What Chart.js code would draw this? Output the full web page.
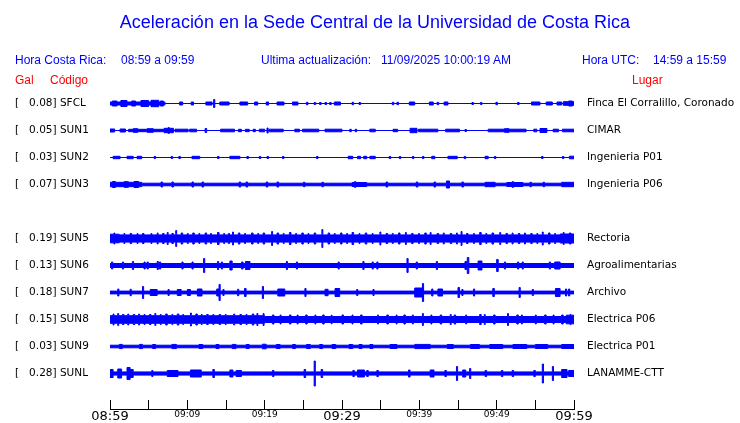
<!DOCTYPE html>
<html>
<head>
<meta charset="utf-8">
<script src="https://cdn.jsdelivr.net/npm/chart.js@4.4.1/dist/chart.umd.min.js"></script>
<style>
  body { margin: 0; background: #fff; }
  #wrap { position: relative; width: 740px; height: 423px; }
  .t { position: absolute; font-family: "Liberation Sans", Arial, sans-serif; white-space: pre; line-height: 1; color: #0000ff; }
  .red { color: #ff0000; }
</style>
</head>
<body>
<div id="wrap">
  <canvas id="seismo"></canvas>
  <div class="t" style="left:0;width:750px;text-align:center;top:13px;font-size:18px;">Aceleración en la Sede Central de la Universidad de Costa Rica</div>
  <div class="t" style="left:15px;top:54px;font-size:12px;">Hora Costa Rica:</div>
  <div class="t" style="left:121px;top:54px;font-size:12px;">08:59 a 09:59</div>
  <div class="t" style="left:261px;top:54px;font-size:12px;">Ultima actualización:</div>
  <div class="t" style="left:381px;top:54px;font-size:12px;">11/09/2025 10:00:19 AM</div>
  <div class="t" style="left:582px;top:54px;font-size:12px;">Hora UTC:</div>
  <div class="t" style="left:653px;top:54px;font-size:12px;">14:59 a 15:59</div>
  <div class="t red" style="left:15px;top:74px;font-size:12px;">Gal</div>
  <div class="t red" style="left:50px;top:74px;font-size:12px;">Código</div>
  <div class="t red" style="left:632px;top:74px;font-size:12px;">Lugar</div>
</div>
<script>
// stations, peak acceleration (gal) and place, top to bottom (slot 4 is empty)
const stations = ['SFCL', 'SUN1', 'SUN2', 'SUN3', 'SUN5', 'SUN6', 'SUN7', 'SUN8', 'SUN9', 'SUNL'];
const peaks = ['0.08', '0.05', '0.03', '0.07', '0.19', '0.13', '0.18', '0.15', '0.03', '0.28'];
const places = ['Finca El Corralillo, Coronado', 'CIMAR', 'Ingenieria P01', 'Ingenieria P06',
  'Rectoria', 'Agroalimentarias', 'Archivo', 'Electrica P06', 'Electrica P01', 'LANAMME-CTT'];
const rowOf = [0, 1, 2, 3, 5, 6, 7, 8, 9, 10];

// x axis: minutes after 08:59
const timeLabels = ['08:59', '09:09', '09:19', '09:29', '09:39', '09:49', '09:59'];

// background noise half-amplitude of each trace
const bases = [0, 0, 0, 1.3, 3.6, 2.0, 1.4, 3.0, 1.3, 1.6];

// bursts: [start minute, end minute, half-amplitude]
const sfclBursts = [[0, 7.1, 1.5], [0.3, 0.9, 2.5], [1.4, 2.2, 3], [2.8, 3.3, 2.5], [4.0, 5.0, 3], [5.3, 6.3, 3.2], [6.5, 6.9, 2.5],
  [9.0, 9.4, 1.5], [10.5, 10.8, 1.5], [12.4, 13.2, 1.5], [13.4, 13.55, 4], [14.2, 15.4, 1.5], [16.8, 17.8, 1.5], [18.7, 19.1, 1.5],
  [20.2, 20.5, 1.5], [21.6, 22.5, 1.5], [23.6, 24.3, 1.5], [25.4, 25.6, 1.2], [26.4, 26.6, 1], [27.1, 27.3, 1], [27.8, 28.0, 1],
  [28.4, 28.6, 1], [29.0, 29.8, 1.5], [31.3, 31.5, 1.2], [32.2, 32.4, 1], [36.5, 36.7, 1.2], [37.1, 37.3, 1.2], [38.7, 39.4, 1.5],
  [41.3, 41.8, 1.5], [42.3, 42.5, 1.2], [43.2, 43.7, 1.5], [46.8, 47.0, 1], [47.9, 48.1, 1], [49.9, 50.1, 1.2], [52.7, 52.9, 1],
  [54.5, 55.6, 1.5], [56.4, 57.2, 1.5], [57.8, 58.4, 1.5], [58.6, 60, 1.8], [59.3, 59.8, 2.5]];
const sun1Bursts = [[0, 0.6, 1.5], [1.3, 2.0, 1.5], [2.4, 7.0, 1.2], [3.0, 3.6, 1.8], [4.8, 5.6, 1.8], [7.0, 8.2, 2.2], [7.5, 7.7, 2.8],
  [8.4, 10.1, 1.3], [10.3, 11.2, 1.3], [12.3, 12.5, 2], [14.3, 16.1, 1.3], [16.6, 17.0, 1.2], [17.5, 18.0, 1.2], [18.5, 18.8, 1.2],
  [19.3, 20.0, 1.3], [20.3, 20.45, 2.5], [20.6, 22.4, 1.3], [23.9, 24.5, 1.3], [24.9, 27.0, 1.3], [27.8, 30.0, 1.3], [31.0, 31.2, 1.2],
  [31.7, 31.9, 1.2], [33.6, 34.3, 1.3], [36.6, 37.2, 1.2], [38.8, 39.7, 2.2], [39.9, 42.4, 1.3], [43.4, 45.2, 1.3], [45.9, 46.1, 1],
  [48.9, 53.8, 1.3], [51.0, 51.6, 1.8], [54.8, 55.2, 1.3], [55.6, 56.5, 2], [57.3, 58.0, 1.3], [58.5, 60, 1.3]];
const sun2Bursts = [[0.4, 1.3, 1.2], [2.2, 3.0, 1.2], [3.5, 4.1, 1.2], [5.7, 5.9, 1], [7.9, 8.1, 1], [8.9, 9.1, 1], [10.6, 11.6, 1.2],
  [13.9, 14.1, 1], [15.5, 16.8, 1.2], [17.7, 17.9, 1], [19.3, 19.5, 1], [20.3, 20.5, 1], [22.3, 22.5, 1], [26.7, 26.9, 1],
  [30.8, 31.4, 1.2], [32.0, 32.4, 1.2], [32.8, 33.2, 1.2], [33.6, 34.3, 1.2], [36.1, 36.3, 1], [37.4, 37.6, 1], [39.1, 39.3, 1],
  [40.4, 40.6, 1], [41.6, 42.0, 1.2], [43.7, 44.9, 1.2], [45.8, 46.0, 1], [48.5, 48.9, 1.2], [49.7, 49.9, 1], [55.8, 56.0, 1],
  [58.5, 58.7, 1], [59.4, 60, 1.3]];
const sun3Bursts = [[0, 4.1, 2.2], [0.3, 0.7, 3], [1.8, 2.4, 2.8], [3.1, 3.7, 3], [6.6, 6.8, 2.5], [8.0, 8.2, 2.5], [10.6, 10.8, 2.5],
  [11.9, 12.1, 2.5], [16.7, 16.9, 2.5], [17.6, 17.8, 2.5], [20.2, 20.4, 2.5], [21.6, 21.8, 2.5], [25.0, 25.2, 2.2], [27.4, 27.6, 2.2],
  [31.3, 33.2, 2], [31.6, 31.8, 2.8], [35.7, 35.9, 2.5], [39.6, 39.8, 2.5], [41.9, 42.1, 2.5], [43.5, 43.9, 3.5], [45.5, 45.7, 2.5],
  [48.5, 49.8, 2.2], [51.3, 53.4, 2], [52.0, 52.2, 2.8], [54.3, 54.5, 2.2], [56.0, 56.2, 2.2], [58.4, 60, 2.2]];
const sun5Bursts = [[0, 1.2, 4.3], [0.5, 0.62, 5.5], [1.8, 1.92, 5], [2.6, 2.8, 5], [3.5, 3.62, 5], [4.2, 4.4, 5], [5.3, 5.42, 5],
  [6.1, 6.22, 5.5], [6.8, 7.0, 5], [7.4, 7.52, 6], [8.0, 8.2, 5], [8.5, 8.62, 8], [9.2, 9.4, 5.5], [10.0, 10.12, 5], [10.7, 10.9, 5.5],
  [11.5, 11.62, 5], [12.3, 12.5, 5.5], [13.0, 13.12, 5], [13.9, 14.1, 6], [14.7, 14.82, 5], [15.3, 15.45, 5], [15.85, 15.97, 6.5],
  [16.6, 16.8, 5.5], [17.4, 17.52, 5], [18.3, 18.5, 5.5], [19.1, 19.22, 5], [19.8, 20.0, 5.5], [20.9, 21.02, 7], [21.6, 21.8, 5.5],
  [22.4, 22.52, 5], [23.2, 23.4, 6], [24.0, 24.12, 5], [24.8, 25.0, 5.5], [25.6, 25.72, 5], [26.4, 26.6, 5.5], [27.4, 27.52, 9],
  [28.2, 28.4, 5.5], [29.0, 29.12, 5], [29.8, 30.0, 5.5], [30.6, 30.72, 5], [31.3, 31.5, 6], [32.2, 32.32, 5], [33.0, 33.2, 5.5],
  [33.9, 34.02, 5], [34.9, 35.02, 6.5], [35.7, 35.9, 5], [36.5, 36.62, 5], [37.3, 37.5, 5.5], [38.2, 38.32, 6], [39.0, 39.2, 5],
  [39.9, 40.02, 5], [40.7, 40.9, 5.5], [41.4, 41.52, 6], [42.3, 42.5, 5], [43.1, 43.22, 5.5], [44.0, 44.2, 5], [44.8, 44.92, 5.5],
  [45.4, 45.52, 7], [46.1, 46.3, 5], [47.0, 47.12, 5], [47.8, 48.0, 6], [48.6, 48.72, 5], [49.4, 49.6, 5.5], [50.4, 50.52, 6],
  [51.2, 51.4, 5], [52.0, 52.12, 5.5], [52.8, 53.0, 5], [53.6, 53.72, 5.5], [54.4, 54.6, 5], [55.2, 55.32, 5], [55.9, 56.02, 6.5],
  [56.7, 56.9, 5.5], [57.5, 57.62, 5], [58.2, 60, 4.5], [58.6, 58.72, 6], [59.4, 59.6, 5.5]];
const sun6Bursts = [[0.2, 0.35, 3.5], [1.6, 1.75, 3.5], [2.9, 3.05, 4], [4.4, 4.55, 3.5], [4.8, 4.95, 3.5], [6.1, 6.25, 4],
  [6.4, 6.55, 3.5], [9.3, 9.45, 3.5], [10.6, 10.75, 3.5], [12.1, 12.25, 7], [13.9, 14.05, 4], [14.4, 14.55, 3.5], [15.5, 15.8, 4.5],
  [17.0, 17.2, 3.5], [17.5, 18.1, 4], [22.8, 22.95, 4], [24.1, 24.25, 3.5], [29.5, 29.65, 3.5], [32.7, 32.85, 4], [33.9, 34.05, 3.5],
  [34.5, 34.65, 3.5], [38.4, 38.55, 7], [39.6, 39.75, 3.5], [42.2, 42.35, 4], [45.9, 46.1, 4], [46.2, 46.4, 8], [47.6, 48.1, 4.5],
  [50.0, 50.2, 6], [51.0, 51.15, 3.5], [52.7, 52.85, 3.5], [53.3, 53.45, 3.5], [56.8, 56.95, 3.5], [57.5, 58.2, 3.5]];
const sun7Bursts = [[1.0, 1.15, 3.5], [2.6, 2.75, 3.2], [4.2, 4.35, 6], [5.2, 6.1, 3], [7.5, 7.65, 3], [8.7, 9.2, 3], [10.0, 10.4, 3],
  [11.3, 11.9, 3.5], [13.8, 14.1, 3.5], [14.1, 14.25, 8], [14.6, 14.75, 3], [16.5, 16.65, 3.2], [17.4, 17.6, 4], [19.7, 19.85, 6],
  [21.7, 22.6, 3.5], [25.2, 25.35, 4], [27.8, 28.2, 3.2], [29.1, 29.7, 4], [31.9, 32.05, 3], [34.0, 34.15, 3], [39.4, 40.4, 4.5],
  [40.4, 40.55, 9], [41.6, 41.75, 3.5], [42.4, 43.0, 3.5], [45.0, 45.2, 5], [45.5, 45.65, 3], [47.0, 47.15, 3.5], [49.5, 49.7, 4],
  [52.9, 53.05, 5], [54.6, 54.75, 3], [57.6, 58.2, 4], [58.9, 59.05, 3.5], [59.3, 59.45, 3.5]];
const sun8Bursts = [[0, 20, 3.8], [0.4, 0.52, 5.5], [1.0, 1.12, 6], [1.6, 1.8, 5], [2.3, 2.42, 5.5], [3.0, 3.2, 5], [3.7, 3.82, 5.5],
  [4.4, 4.52, 5], [5.1, 5.3, 5], [5.8, 5.92, 6], [6.5, 6.62, 5], [7.2, 7.4, 5.5], [8.0, 8.12, 5], [8.7, 8.9, 5.5], [9.4, 9.52, 5],
  [10.4, 10.52, 6.5], [11.1, 11.3, 5.5], [11.8, 11.92, 5], [12.5, 12.7, 5], [13.3, 13.42, 5], [14.1, 14.3, 5], [14.9, 15.02, 5],
  [16.0, 16.12, 5.5], [16.8, 17.0, 5], [17.6, 17.72, 5], [18.4, 18.6, 5.5], [19.0, 19.12, 6], [19.8, 19.92, 6], [21.0, 21.2, 4.5],
  [22.0, 22.12, 4.5], [23.2, 23.4, 4.5], [24.2, 24.32, 4.5], [25.3, 25.5, 4.5], [26.5, 26.62, 4.5], [27.5, 27.7, 4.5],
  [28.6, 28.72, 4.3], [30.0, 30.2, 4.5], [31.3, 31.42, 4.5], [32.4, 32.6, 4.5], [34.6, 34.72, 4.5], [35.8, 36.0, 4.5],
  [37.0, 37.12, 4.5], [38.0, 38.2, 4.5], [39.1, 39.22, 4.5], [40.4, 40.52, 6], [41.5, 41.62, 4.5], [42.7, 42.9, 4.5],
  [44.0, 44.12, 5], [44.5, 44.7, 4.5], [46.0, 46.12, 4.5], [47.8, 48.0, 5], [48.4, 48.52, 5], [49.6, 49.8, 4.5], [51.4, 51.52, 6],
  [52.6, 52.8, 4.5], [53.2, 53.32, 4.5], [55.0, 55.12, 4.5], [56.2, 56.4, 4.5], [57.3, 57.42, 4.5], [58.4, 58.6, 4.5],
  [59.0, 60, 4.3], [59.5, 59.62, 5]];
const sun9Bursts = [[1.2, 1.6, 2.1], [3.8, 4.2, 2.1], [5.5, 5.9, 2], [8.0, 8.6, 2.1], [11.5, 12.0, 2], [13.7, 14.1, 2],
  [15.8, 16.3, 2.1], [17.6, 18.0, 2], [19.7, 20.2, 2.3], [21.5, 22.0, 2], [23.6, 24.0, 2], [25.4, 25.9, 2], [27.1, 27.5, 2],
  [28.7, 29.2, 2], [30.9, 31.4, 2], [32.2, 32.6, 2], [33.6, 34.0, 2], [36.2, 37.1, 2], [39.4, 41.4, 2.1], [43.6, 44.4, 2],
  [46.6, 47.8, 2], [49.1, 50.8, 2], [52.1, 53.9, 2], [55.0, 56.6, 2], [58.4, 60, 2]];
const sunlBursts = [[0, 0.4, 4], [1.0, 1.5, 4.5], [2.2, 2.6, 6], [2.6, 3.0, 4], [5.4, 5.55, 3], [7.4, 8.8, 3], [10.4, 11.8, 3.5],
  [13.3, 13.5, 4], [15.5, 15.9, 3.5], [16.3, 17.0, 3], [21.0, 21.2, 3], [25.1, 25.3, 4], [26.4, 26.55, 12.5], [27.3, 27.5, 4],
  [31.4, 31.6, 3], [32.0, 32.9, 3.5], [33.2, 33.4, 3], [34.5, 34.7, 3], [38.6, 38.8, 3.5], [41.4, 41.9, 3.5], [43.3, 43.5, 3],
  [44.8, 44.95, 7], [45.6, 46.0, 3.5], [46.5, 46.65, 5], [48.5, 48.7, 3], [50.6, 50.8, 3], [52.0, 52.2, 3], [54.8, 55.0, 3],
  [55.9, 56.05, 9.5], [57.2, 57.35, 7], [58.4, 59.1, 4], [59.3, 60, 3]];

const bursts = [sfclBursts, sun1Bursts, sun2Bursts, sun3Bursts, sun5Bursts, sun6Bursts, sun7Bursts, sun8Bursts, sun9Bursts, sunlBursts];

const ROW = 27;      // y units between traces
const TRACE = '#0000ff';

// piecewise envelope: amplitude held from each cut to the next
function envelope(base, list) {
  const cuts = [0, 60];
  list.forEach(b => { cuts.push(b[0], b[1]); });
  const xs = [...new Set(cuts)].sort((a, b) => a - b);
  const pts = [];
  for (let i = 0; i < xs.length - 1; i++) {
    const mid = (xs[i] + xs[i + 1]) / 2;
    let a = base;
    list.forEach(b => { if (mid >= b[0] && mid < b[1] && b[2] > a) a = b[2]; });
    pts.push({ t: xs[i], a: a });
  }
  pts.push({ t: 60, a: pts[pts.length - 1].a });
  return pts;
}

const datasets = [];
stations.forEach((s, i) => {
  const center = (rowOf[i] + 1) * ROW;
  const env = envelope(bases[i], bursts[i]);
  const common = {
    borderColor: TRACE, backgroundColor: TRACE, borderWidth: 1,
    pointRadius: 0, stepped: true, tension: 0
  };
  datasets.push(Object.assign({ label: s + ' up', data: env.map(p => ({ x: p.t, y: center - p.a })), fill: false }, common));
  datasets.push(Object.assign({ label: s + ' down', data: env.map(p => ({ x: p.t, y: center + p.a })), fill: '-1' }, common));
});

const rowTicks = rowOf.map(r => (r + 1) * ROW);
const leftLabels = stations.map((s, i) => '[   ' + peaks[i] + '] ' + s);

// keep axis label overhang from shrinking the plot
function noPad(scale) {
  scale.paddingTop = 0; scale.paddingBottom = 0;
  scale.paddingLeft = 0; scale.paddingRight = 0;
}

const yCommon = {
  type: 'linear', reverse: true, min: -0.5, max: 12.333 * ROW - 0.5,
  grid: { display: false, drawTicks: false }, border: { display: false },
  afterBuildTicks: scale => { scale.ticks = rowTicks.map(v => ({ value: v })); }
};

new Chart(document.getElementById('seismo'), {
  type: 'line',
  data: { datasets: datasets },
  options: {
    responsive: true,
    maintainAspectRatio: false,
    animation: false,
    events: [],
    layout: { padding: { left: 15, top: 76, right: 0, bottom: 0 } },
    plugins: { legend: { display: false }, tooltip: { enabled: false } },
    scales: {
      x: {
        type: 'linear', min: 0, max: 60,
        grid: { drawOnChartArea: false, drawTicks: true, tickLength: -9, color: '#000', lineWidth: 1 },
        border: { display: true, color: '#000', width: 1 },
        ticks: {
          stepSize: 5, autoSkip: false, maxRotation: 0, minRotation: 0, padding: 9, color: '#000',
          font: c => ({ family: 'DejaVu Sans', size: (c.tick && c.tick.value % 30 === 0) ? 13 : 9 }),
          callback: v => (v % 10 === 0 ? timeLabels[v / 10] : '')
        },
        afterFit: scale => { scale.height = 14; noPad(scale); }
      },
      y: Object.assign({}, yCommon, {
        position: 'left',
        ticks: {
          autoSkip: false, crossAlign: 'far', padding: 0, color: '#000',
          font: { family: 'DejaVu Sans', size: 10.5 },
          callback: (v, i) => leftLabels[i]
        },
        afterFit: scale => { scale.width = 95; noPad(scale); }
      }),
      y2: Object.assign({}, yCommon, {
        position: 'right',
        ticks: {
          autoSkip: false, crossAlign: 'near', padding: 13, color: '#000',
          font: { family: 'DejaVu Sans', size: 10.5 },
          callback: (v, i) => places[i]
        },
        afterFit: scale => { scale.width = 166; noPad(scale); }
      })
    }
  }
});
</script>
</body>
</html>
